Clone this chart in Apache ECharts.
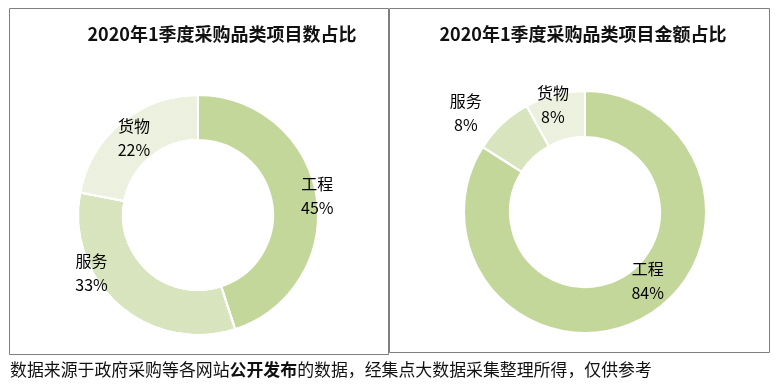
<!DOCTYPE html>
<html><head><meta charset="utf-8">
<script src="https://cdn.jsdelivr.net/npm/echarts@6/dist/echarts.min.js"></script>
<style>html,body{margin:0;padding:0;background:#fff}#c{width:778px;height:387px}</style>
</head><body><div id="c"></div>
<script>
const categories = ['工程', '服务', '货物'];
const countShare = [45, 33, 22];
const amountShare = [84, 8, 8];
const titles = ['2020年1季度采购品类项目数占比', '2020年1季度采购品类项目金额占比'];
const footer = '数据来源于政府采购等各网站';
const footerBold = '公开发布';
const footerEnd = '的数据，经集点大数据采集整理所得，仅供参考';

const colors = ['#c4d79b', '#d7e4bd', '#ebf1de'];
const decals = [null,
  {symbol:'rect', symbolSize:0.6, dashArrayX:[1,2], dashArrayY:[1,2], color:'rgba(255,255,255,0.35)'},
  {symbol:'rect', symbolSize:0.6, dashArrayX:[1,2], dashArrayY:[1,2], color:'rgba(255,255,255,0.45)'}];
const leftOffsets = [[20,-3],[-40,-17],[0,0]];
const rightOffsets = [[14,-20],[-50,-25],[-7,-9]];

function build(vals, offs) {
  return categories.map((c, i) => {
    const it = {name: c, value: vals[i], itemStyle: {color: colors[i]}, label: {offset: offs[i]}};
    if (decals[i]) it.itemStyle.decal = decals[i];
    return it;
  });
}
const labelCfg = {
  show: true, position: 'inside', color: '#000', fontSize: 16, lineHeight: 24,
  fontFamily: '"Noto Sans CJK SC", sans-serif',
  formatter: p => p.name + '\n' + p.value + '%'
};
const chart = echarts.init(document.getElementById('c'), null, {renderer: 'canvas'});
chart.setOption({
  animation: false,
  title: [
    {text: titles[0], left: 217, top: 20, textAlign: 'center',
     textStyle: {fontSize: 18, fontWeight: 'bold', color: '#111', fontFamily: '"Noto Sans CJK SC", sans-serif'}},
    {text: titles[1], left: 578, top: 20, textAlign: 'center',
     textStyle: {fontSize: 18, fontWeight: 'bold', color: '#111', fontFamily: '"Noto Sans CJK SC", sans-serif'}}
  ],
  graphic: [
    {type: 'rect', shape: {x: 9.5, y: 8.5, width: 379, height: 346}, style: {fill: 'none', stroke: '#7f7f7f', lineWidth: 1}},
    {type: 'rect', shape: {x: 389.5, y: 8.5, width: 380, height: 344}, style: {fill: 'none', stroke: '#7f7f7f', lineWidth: 1}},
    {type: 'text', left: 10, top: 361, style: {
      text: '{a|' + footer + '}{b|' + footerBold + '}{a|' + footerEnd + '}',
      rich: {
        a: {fontSize: 16.9, fill: '#111', fontFamily: '"Noto Sans CJK SC", sans-serif'},
        b: {fontSize: 16.9, fill: '#111', fontWeight: 'bold', fontFamily: '"Noto Sans CJK SC", sans-serif'}
      }}}
  ],
  series: [
    {type: 'pie', center: [198, 215], radius: [75, 120], startAngle: 90, clockwise: true,
     label: labelCfg, labelLine: {show: false}, emphasis: {disabled: true},
     itemStyle: {borderColor: '#fff', borderWidth: 2},
     data: build(countShare, leftOffsets)},
    {type: 'pie', center: [585, 212], radius: [75, 121], startAngle: 90, clockwise: true,
     label: labelCfg, labelLine: {show: false}, emphasis: {disabled: true},
     itemStyle: {borderColor: '#fff', borderWidth: 2},
     data: build(amountShare, rightOffsets)}
  ]
});
</script></body></html>
